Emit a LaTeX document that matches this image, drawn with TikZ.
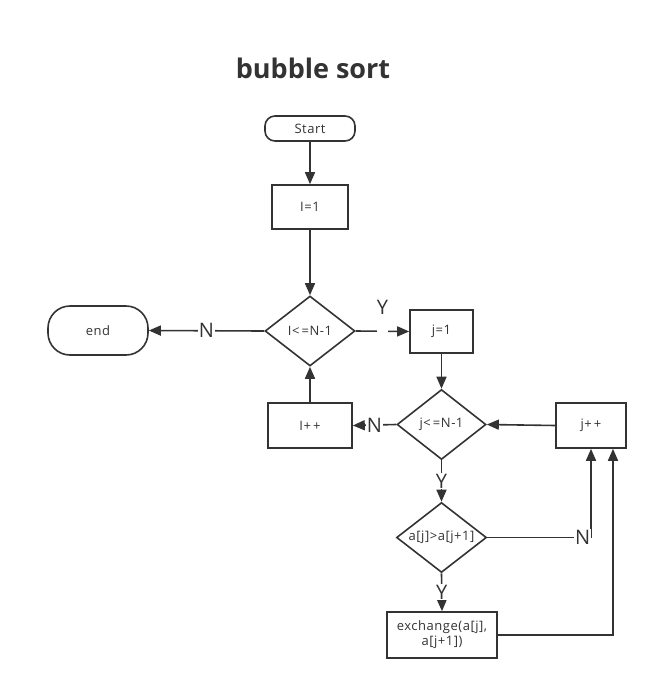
\documentclass[tikz,border=0pt]{standalone}
\usepackage{fontspec}
\setmainfont{Open Sans}
\newfontfamily\boxfont[LetterSpace=4]{Open Sans}
\usetikzlibrary{shapes.geometric,arrows.meta}
\definecolor{ink}{HTML}{333333}
\tikzset{
  x=1pt,y=-1pt,
  every node/.style={text=ink,font=\boxfont\fontsize{13}{15}\selectfont},
  conn/.style={draw=ink,line width=1.6pt,-{Triangle[length=12pt,width=10pt]}},
  boxnode/.style={draw=ink,line width=1.6pt,rectangle,inner sep=0pt,align=center},
  termnode/.style={boxnode,rounded corners=#1},
  dianode/.style={draw=ink,line width=1.6pt,diamond,inner sep=0pt,minimum width=90pt,minimum height=70pt},
  lab/.style={font=\fontsize{20}{22}\selectfont,fill=white,inner sep=1pt},
  gapnode/.style={fill=white,inner sep=0pt,minimum width=11pt,minimum height=5pt},
}
\begin{document}
\begin{tikzpicture}
\useasboundingbox (0,0) rectangle (659,691);
\node[font=\fontsize{27}{30}\selectfont\bfseries] (title) at (313,68) {bubble sort};
\node[termnode=10pt,minimum width=90pt,minimum height=25pt] (start) at (310,128.5) {Start};
\node[boxnode,minimum width=76pt,minimum height=44pt] (i1) at (310,207) {I=1};
\node[dianode] (d1) at (310,331) {I<\,=N-1};
\node[termnode=22pt,minimum width=100pt,minimum height=49pt] (end) at (98,330.5) {end};
\node[boxnode,minimum width=63pt,minimum height=43pt] (j1) at (441.5,331.5) {j=1};
\node[dianode,minimum width=89pt] (d2) at (441.5,424.5) {j<\,=N-1};
\node[boxnode,minimum width=84pt,minimum height=45pt] (ipp) at (310,425.5) {I+\,+};
\node[boxnode,minimum width=70pt,minimum height=45pt] (jpp) at (591,425.5) {j+\,+};
\node[dianode,label={center:a[j]>a[j+1]}] (d3) at (441.5,537.5) {};
\node[boxnode,minimum width=110pt,minimum height=46pt] (ex) at (442,635) {exchange(a[j],\\a[j+1])};

\draw[conn] (start) -- (i1);
\draw[conn] (i1) -- (d1);
\draw[conn] (d1.west) -- node[lab,midway]{N} (end.east);
\draw[conn] (d1.east) -- node[gapnode,midway]{} node[lab,midway,yshift=24pt,fill=none]{Y} (j1.west);
\draw[conn] (j1) -- (d2);
\draw[conn] (d2.west) -- node[lab,midway]{N} (ipp.east);
\draw[conn] (ipp) -- (d1);
\draw[conn] (jpp.west) -- (d2.east);
\draw[conn] (d2.south) -- node[lab,midway]{Y} (d3.north);
\draw[conn] (d3.south) -- node[lab,midway]{Y} (ex.north);
\draw[conn] (d3.east) -| node[lab,pos=0.46]{N} (jpp.south);
\draw[conn] (ex.east) -| ([xshift=22pt]jpp.south);
\end{tikzpicture}
\end{document}
